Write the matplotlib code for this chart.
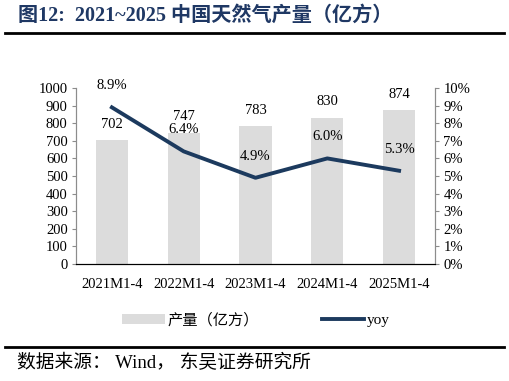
import matplotlib
matplotlib.use('Agg')
from matplotlib import pyplot as plt
from matplotlib.patches import Patch
from matplotlib.lines import Line2D

FAMILY = ['Liberation Serif', 'Noto Sans CJK SC']
plt.rcParams['font.family'] = FAMILY

categories = ['2021M1-4', '2022M1-4', '2023M1-4', '2024M1-4', '2025M1-4']
output = [702, 747, 783, 830, 874]
yoy = [8.9, 6.4, 4.9, 6.0, 5.3]

NAVY = '#1c3a5e'
BAR = '#dcdcdc'
SPINE = '#8c8c8c'

fig = plt.figure(figsize=(5.09, 3.81), dpi=100)
ax = fig.add_axes([0.1493, 0.307, 0.7053, 0.462])
ax2 = ax.twinx()

x = range(len(categories))
ax.bar(x, output, width=0.45, color=BAR, zorder=1)
for xi, v in zip(x, output):
    ax.annotate(str(v), (xi, v), xytext=(0, 11.5), textcoords='offset points',
                ha='center', va='center', fontsize=10.5)

ax2.plot(x, yoy, color=NAVY, lw=2.8, zorder=3)
for xi, v in zip(x, yoy):
    ax2.annotate(f'{v:.1f}%', (xi, v), xytext=(0, 15.5), textcoords='offset points',
                 ha='center', va='center', fontsize=10.5)

ax.set_xlim(-0.5, 4.5)
ax.set_ylim(0, 1000)
ax.set_yticks(range(0, 1001, 100))
ax2.set_ylim(0, 10)
ax2.set_yticks(range(0, 11))
ax2.set_yticklabels([f'{i}%' for i in range(11)])
ax.set_xticks(list(x))
ax.set_xticklabels(categories)

for a in (ax, ax2):
    a.spines['top'].set_visible(False)
    a.spines['left'].set_color(SPINE)
    a.spines['right'].set_color(SPINE)
    a.spines['bottom'].set_color('black')
    a.tick_params(axis='y', colors=SPINE, labelcolor='black', labelsize=10.5,
                  length=3, width=0.8, pad=3)
ax.tick_params(axis='x', length=0, labelsize=10.5, pad=10)
ax.patch.set_visible(False)
ax2.set_zorder(ax.get_zorder() + 1)

handles = [Patch(facecolor=BAR, edgecolor='none'),
           Line2D([], [], color=NAVY, lw=2.8)]
fig.legend(handles, ['产量（亿方）', 'yoy'], loc='center', ncol=2,
           bbox_to_anchor=(0.503, 0.16), frameon=False,
           handlelength=2.8, handletextpad=0.15, columnspacing=4.1,
           prop={'family': FAMILY, 'size': 11})

fig.text(0.035, 0.958, '图12:  2021~2025 中国天然气产量（亿方）', fontsize=14.5,
         fontweight='bold', color='#1f3864', va='center', family=FAMILY)
fig.add_artist(Line2D([0.01, 0.99], [0.913, 0.913], color='black', lw=2))
fig.add_artist(Line2D([0.01, 0.99], [0.089, 0.089], color='black', lw=2))
fig.text(0.033, 0.048, '数据来源： Wind， 东吴证券研究所', fontsize=13.5, va='center',
         family=FAMILY)

fig.savefig('out.png', dpi=100)
